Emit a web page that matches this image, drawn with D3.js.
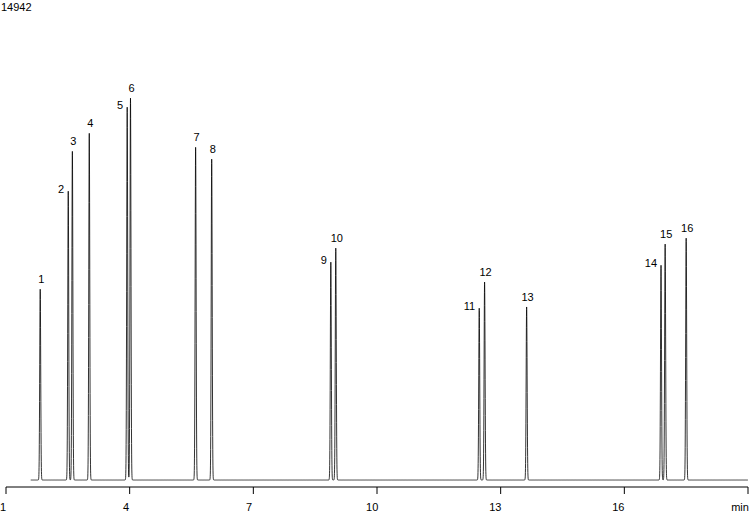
<!DOCTYPE html><html><head><script src="https://d3js.org/d3.v7.min.js"></script>
<style>body{margin:0;background:#fff}text{font-family:"Liberation Sans",Arial,sans-serif;font-size:11px;fill:#000}</style></head><body>
<svg id="c" width="750" height="512"></svg>
<script>
const peakIds=["1","2","3","4","5","6","7","8","9","10","11","12","13","14","15","16"];
const peakTimes=[1.83,2.51,2.61,3.02,3.94,4.02,5.60,5.99,8.88,9.00,12.48,12.61,13.63,16.89,16.99,17.50];
const peakHeights=[6130,9280,10560,11140,11980,12270,10690,10310,7000,7450,5520,6360,5560,6900,7580,7770];
const labelLeft=[false,true,false,false,true,false,false,false,true,false,true,false,false,true,false,false];
const tickValues=[1,4,7,10,13,16];
const yMax=14942;
const svg=d3.select("#c");
const x=d3.scaleLinear().domain([1,19]).range([6,748]);
const y=d3.scaleLinear().domain([0,yMax]).range([480,15]);
const sig=0.012;
const pts=[];
for(let t=1.6;t<=19;t+=0.002){
  let v=0;
  peakTimes.forEach((p,i)=>{const d=(t-p)/sig;if(Math.abs(d)<8)v+=peakHeights[i]*Math.exp(-0.5*d*d);});
  pts.push([t,v]);
}
svg.append("path").datum(pts).attr("fill","none").attr("stroke","#000").attr("stroke-width",0.8)
 .attr("d",d3.line().x(d=>x(d[0])).y(d=>y(d[1])));
const ax=svg.append("g").attr("transform","translate(0,487)");
ax.append("line").attr("x1",6).attr("x2",748).attr("stroke","#000");
[...tickValues,19].forEach(v=>ax.append("line").attr("x1",x(v)).attr("x2",x(v)).attr("y1",0).attr("y2",7).attr("stroke","#000"));
tickValues.forEach(v=>ax.append("text").attr("x",x(v)-3-(v-1)*0.2).attr("y",24).attr("text-anchor","middle").text(v));
ax.append("text").attr("x",740).attr("y",24).attr("text-anchor","middle").text("min");
svg.append("text").attr("x",1).attr("y",11).text(yMax);
peakIds.forEach((id,i)=>{
  const px=x(peakTimes[i]),py=y(peakHeights[i]);
  svg.append("text").attr("x",labelLeft[i]?px-4:px+1).attr("y",labelLeft[i]?py+2:py-6)
   .attr("text-anchor",labelLeft[i]?"end":"middle").text(id);
});
</script></body></html>
